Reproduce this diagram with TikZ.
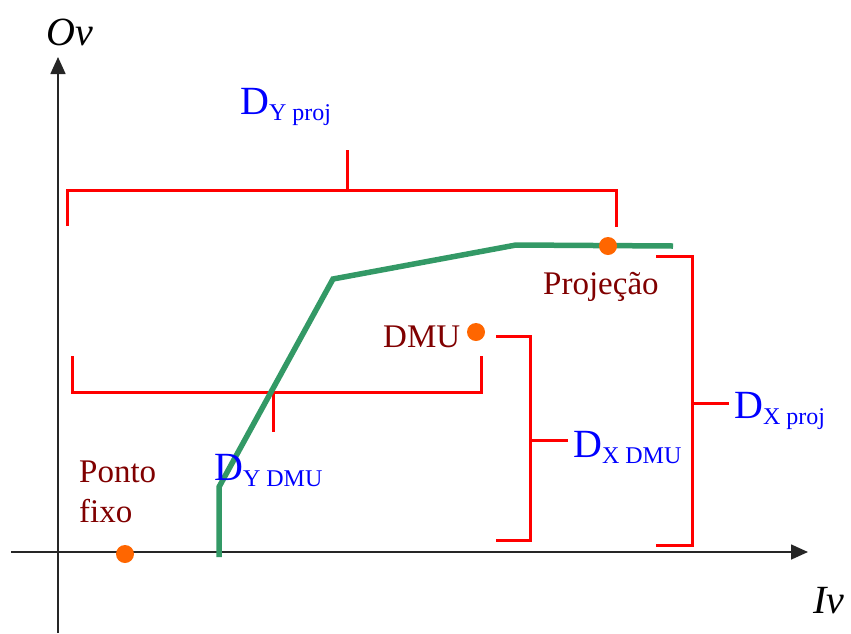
\documentclass[tikz,border=0pt]{standalone}
\usepackage{fontspec}
\setmainfont{Liberation Serif}
\usetikzlibrary{arrows.meta}
\definecolor{dred}{HTML}{800000}
\definecolor{fgreen}{HTML}{339966}
\definecolor{dorange}{HTML}{FF6600}
\definecolor{lblue}{HTML}{0000FF}
\newcommand{\dlab}[2]{{\fontsize{40}{40}\selectfont D}\raisebox{-6pt}{\fontsize{24}{24}\selectfont #1 #2}}
\begin{document}
\begin{tikzpicture}[x=1pt,y=-1pt,
  axisline/.style={line width=1.6pt,draw=black!85,-{Triangle[width=15pt,length=17pt]}},
  brack/.style={line width=3pt,draw=red},
  frontier/.style={line width=5.5pt,draw=fgreen},
  dotpt/.style={circle,fill=dorange,inner sep=0pt,minimum size=18pt},
  ptlabel/.style={text=dred,font=\fontsize{33}{40}\selectfont,inner sep=0pt,anchor=base west,align=left},
  dlabel/.style={text=lblue,inner sep=0pt,anchor=base west},
  axlabel/.style={font=\fontsize{40}{40}\selectfont\itshape,inner sep=0pt,anchor=base west}]
\useasboundingbox (0,0) rectangle (851,633);
% axes
\coordinate (yb) at (58,633);
\coordinate (yt) at (58,57);
\coordinate (xl) at (11,552);
\coordinate (xr) at (808,552);
\draw[axisline] (yb) -- (yt);
\draw[axisline] (xl) -- (xr);
\node[axlabel] (ov) at (46,45) {Ov};
\node[axlabel] (iv) at (813,613) {Iv};
% brackets
\coordinate (a1) at (67,226); \coordinate (a2) at (67,190);
\coordinate (a3) at (616,190); \coordinate (a4) at (616,227);
\coordinate (at1) at (347,190); \coordinate (at2) at (347,150);
\draw[brack] (a1) -- (a2) -- (a3) -- (a4);
\draw[brack] (at1) -- (at2);
\coordinate (b1) at (72,356); \coordinate (b2) at (72,392);
\coordinate (b3) at (481,392); \coordinate (b4) at (481,356);
\coordinate (bt1) at (273,392); \coordinate (bt2) at (273,432);
\draw[brack] (b1) -- (b2) -- (b3) -- (b4);
\draw[brack] (bt1) -- (bt2);
\coordinate (c1) at (496,336); \coordinate (c2) at (530,336);
\coordinate (c3) at (530,540); \coordinate (c4) at (496,540);
\coordinate (ct1) at (530,440); \coordinate (ct2) at (568,440);
\draw[brack] (c1) -- (c2) -- (c3) -- (c4);
\draw[brack] (ct1) -- (ct2);
\coordinate (d1) at (656,256); \coordinate (d2) at (692,256);
\coordinate (d3) at (692,545); \coordinate (d4) at (656,545);
\coordinate (dt1) at (692,403); \coordinate (dt2) at (729,403);
\draw[brack] (d1) -- (d2) -- (d3) -- (d4);
\draw[brack] (dt1) -- (dt2);
% frontier
\coordinate (f1) at (219,557); \coordinate (f2) at (219,487);
\coordinate (f3) at (333,279); \coordinate (f4) at (516,245);
\coordinate (f5) at (673,246);
\draw[frontier] (f1) -- (f2) -- (f3) -- (f4) -- (f5);
% points
\node[dotpt] (proj) at (608,246) {};
\node[dotpt] (dmu) at (476,332) {};
\node[dotpt] (fixo) at (125,554) {};
% labels
\node[ptlabel] (lproj) at (543,294) {Projeção};
\node[ptlabel] (ldmu) at (383,347) {DMU};
\node[ptlabel] (lponto) at (79,482) {Ponto};
\node[ptlabel] (lfixo) at (79,522) {fixo};
\node[dlabel] (dyproj) at (240,114) {\dlab{Y}{proj}};
\node[dlabel] (dydmu) at (214,480) {\dlab{Y}{DMU}};
\node[dlabel] (dxdmu) at (573,457) {\dlab{X}{DMU}};
\node[dlabel] (dxproj) at (734,418) {\dlab{X}{proj}};
\end{tikzpicture}
\end{document}
